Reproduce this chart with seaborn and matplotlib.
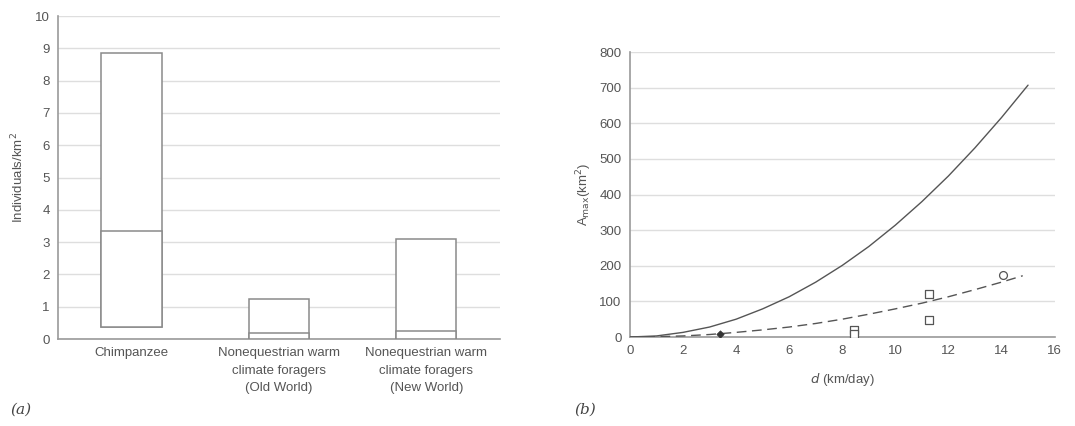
import matplotlib
matplotlib.use("Agg")
import matplotlib.pyplot as plt
import seaborn as sns
import pandas as pd
import numpy as np

# ---------------- data ----------------
categories = ["Chimpanzee",
              "Nonequestrian warm\nclimate foragers\n(Old World)",
              "Nonequestrian warm\nclimate foragers\n(New World)"]
density_min = [0.38, 0.0, 0.0]
density_mid = [3.35, 0.20, 0.25]
density_max = [8.87, 1.25, 3.10]

d_solid = [0, 1, 2, 3, 4, 5, 6, 7, 8, 9, 10, 11, 12, 13, 14, 15]
a_solid = [0, 3, 13, 28, 50, 79, 113, 154, 201, 254, 314, 380, 452, 531, 616, 707]
d_dashed = [0, 1, 2, 3, 4, 5, 6, 7, 8, 9, 10, 11, 12, 13, 14, 14.8]
a_dashed = [0, 1, 3, 7, 13, 20, 28, 38, 50, 64, 79, 95, 113, 133, 154, 172]
pts_d = [3.4, 8.45, 8.45, 11.25, 11.25, 14.05]
pts_a = [8, 20, 8, 120, 48, 175]
pts_kind = ["filled", "square", "square", "square", "square", "circle"]

# ---------------- style ----------------
sns.set_theme(style="white")
plt.rcParams["font.family"] = ["Liberation Sans", "DejaVu Sans"]
TXT = "#555555"
AX = "#9a9a9a"
GRID = "#dedede"
EDGE = "#8a8a8a"
FS = 9.5

fig = plt.figure(figsize=(10.75, 4.26), dpi=100)
axa = fig.add_axes([0.054, 0.2042, 0.411, 0.7582])
axb = fig.add_axes([0.586, 0.2089, 0.395, 0.6690])

# ---------------- panel (a) ----------------
dfa = pd.DataFrame({"cat": categories,
                    "rng": np.array(density_max) - np.array(density_min),
                    "low": np.array(density_mid) - np.array(density_min),
                    "bottom": density_min})
for col in ["rng", "low"]:
    sns.barplot(data=dfa, x="cat", y=col, order=categories, ax=axa,
                bottom=dfa["bottom"].values, width=0.41, color="white",
                edgecolor=EDGE, linewidth=1.1, saturation=1, zorder=3)
axa.set_xlim(-0.5, 2.5)
axa.set_ylim(0, 10)
axa.set_yticks(range(0, 11))
axa.yaxis.grid(True, color=GRID, linewidth=1.0, zorder=0)
axa.set_axisbelow(True)
axa.set_xticks(range(3))
axa.set_xticklabels(categories, fontsize=FS, color=TXT, linespacing=1.6)
axa.set_xticks([-0.5, 0.5, 1.5, 2.5], minor=True)
axa.tick_params(axis="x", which="major", length=0, pad=6)
axa.tick_params(axis="x", which="minor", length=4, color=AX, width=1, direction="out")
axa.tick_params(axis="y", length=4, color=AX, width=1, direction="out", labelsize=FS,
                labelcolor=TXT, pad=2)
axa.set_xlabel("")
axa.set_ylabel("Individuals/km$^2$", fontsize=FS, color=TXT, labelpad=6)
for s in ["top", "right"]:
    axa.spines[s].set_visible(False)
for s in ["left", "bottom"]:
    axa.spines[s].set_color(AX)
    axa.spines[s].set_linewidth(1.2)

# ---------------- panel (b) ----------------
sns.lineplot(x=d_solid, y=a_solid, ax=axb, color="#555555", linewidth=1.0, zorder=3)
sns.lineplot(x=d_dashed, y=a_dashed, ax=axb, color="#555555", linewidth=1.0,
             dashes=False, zorder=3).lines[-1].set_dashes([7, 4])
dfp = pd.DataFrame({"d": pts_d, "a": pts_a, "kind": pts_kind})
sq = dfp[dfp.kind == "square"]
sns.scatterplot(data=sq, x="d", y="a", ax=axb, marker="s", s=32,
                facecolor="white", edgecolor="#555555", linewidth=0.9, zorder=4)
ci = dfp[dfp.kind == "circle"]
sns.scatterplot(data=ci, x="d", y="a", ax=axb, marker="o", s=32,
                facecolor="white", edgecolor="#555555", linewidth=0.9, zorder=4)
fi = dfp[dfp.kind == "filled"]
sns.scatterplot(data=fi, x="d", y="a", ax=axb, marker="D", s=14,
                color="#333333", edgecolor="#333333", linewidth=0.5, zorder=4)
axb.set_xlim(0, 16)
axb.set_ylim(0, 800)
axb.set_xticks(range(0, 17, 2))
axb.set_yticks(range(0, 801, 100))
axb.yaxis.grid(True, color=GRID, linewidth=1.0, zorder=0)
axb.set_axisbelow(True)
axb.tick_params(axis="both", length=4, color=AX, width=1, direction="out", labelsize=FS,
                labelcolor=TXT, pad=2)
axb.set_xlabel("$d$ (km/day)", fontsize=FS, color=TXT, labelpad=10)
axb.set_ylabel("A$_{\\mathrm{max}}$(km$^2$)", fontsize=FS, color=TXT, labelpad=4)
for s in ["top", "right"]:
    axb.spines[s].set_visible(False)
for s in ["left", "bottom"]:
    axb.spines[s].set_color(AX)
    axb.spines[s].set_linewidth(1.2)

# panel labels
fig.text(0.010, 0.030, "(a)", fontsize=11, color="#444444", family="DejaVu Serif", style="italic")
fig.text(0.534, 0.030, "(b)", fontsize=11, color="#444444", family="DejaVu Serif", style="italic")

fig.savefig("out.png", dpi=100)
